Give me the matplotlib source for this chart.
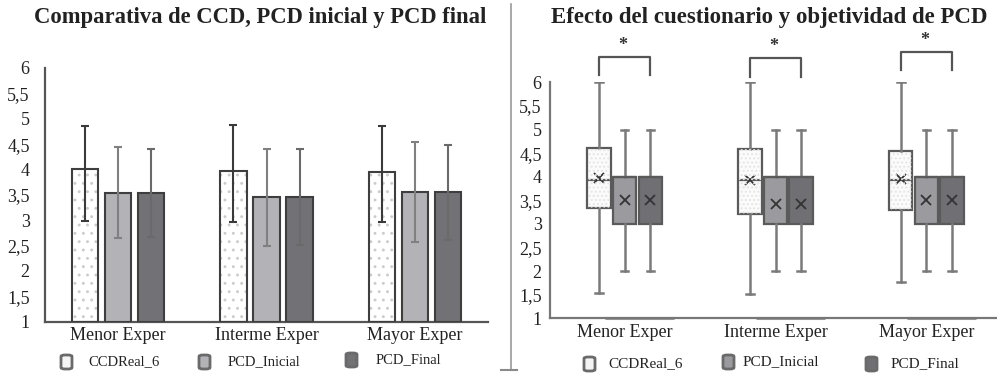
import matplotlib
matplotlib.use("Agg")
import matplotlib.pyplot as plt
import numpy as np
from matplotlib.patches import FancyBboxPatch
from matplotlib.lines import Line2D

plt.rcParams['font.family'] = ['Liberation Serif', 'DejaVu Serif']
plt.rcParams['hatch.linewidth'] = 0.9

# ---- data -------------------------------------------------------------
groups = ["Menor Exper", "Interme Exper", "Mayor Exper"]
series = ["CCDReal_6", "PCD_Inicial", "PCD_Final"]
yticks = [1, 1.5, 2, 2.5, 3, 3.5, 4, 4.5, 5, 5.5, 6]
ytick_labels = ["1", "1,5", "2", "2,5", "3", "3,5", "4", "4,5", "5", "5,5", "6"]

# bar chart: means with lower / upper error-bar ends
ccd_mean = [4.00, 3.97, 3.95]
ccd_low = [2.99, 2.97, 2.97]
ccd_high = [4.86, 4.87, 4.85]
pcdi_mean = [3.53, 3.46, 3.55]
pcdi_low = [2.65, 2.49, 2.57]
pcdi_high = [4.44, 4.41, 4.54]
pcdf_mean = [3.53, 3.46, 3.55]
pcdf_low = [2.67, 2.51, 2.61]
pcdf_high = [4.41, 4.40, 4.49]

# box plot statistics
ccd_q1 = [3.33, 3.20, 3.29]
ccd_med = [3.92, 3.94, 3.93]
ccd_q3 = [4.60, 4.58, 4.55]
ccd_whislo = [1.54, 1.51, 1.76]
ccd_whishi = [6.0, 6.0, 6.0]
ccd_bmean = [3.97, 3.94, 3.95]
pcdi_q1 = [3.0, 3.0, 3.0]
pcdi_med = [4.0, 4.0, 4.0]
pcdi_q3 = [4.0, 4.0, 4.0]
pcdi_whislo = [2.0, 2.0, 2.0]
pcdi_whishi = [5.0, 5.0, 5.0]
pcdi_bmean = [3.51, 3.42, 3.51]
pcdf_q1 = [3.0, 3.0, 3.0]
pcdf_med = [4.0, 4.0, 4.0]
pcdf_q3 = [4.0, 4.0, 4.0]
pcdf_whislo = [2.0, 2.0, 2.0]
pcdf_whishi = [5.0, 5.0, 5.0]
pcdf_bmean = [3.51, 3.42, 3.51]

# significance brackets (bracket foot, bracket top)
sig_foot = [6.15, 6.12, 6.26]
sig_top = [6.54, 6.51, 6.65]

titles = ["Comparativa de CCD, PCD inicial y PCD final",
          "Efecto del cuestionario y objetividad de PCD"]

# ---- styling ------------------------------------------------------------
fills = ["white", "#b3b3b7", "#727276"]
box_fills = ["#fbfbfb", "#9b9b9f", "#707074"]
edge = "#3e3e3e"
err_cols = ["#3a3a3a", "#808080", "#6a6a6a"]

W, H = 997, 373
fig = plt.figure(figsize=(W / 100, H / 100), dpi=100)


def px_axes(x0, y0, x1, y1):
    return fig.add_axes([x0 / W, 1 - y1 / H, (x1 - x0) / W, (y1 - y0) / H])


def style_axes(ax, spine_col):
    for s in ["top", "right"]:
        ax.spines[s].set_visible(False)
    for s in ["left", "bottom"]:
        ax.spines[s].set_color(spine_col)
        ax.spines[s].set_linewidth(1.6)
    ax.set_ylim(1, 6)
    ax.set_yticks(yticks)
    ax.set_yticklabels(ytick_labels, fontsize=13, color="#222222")
    ax.tick_params(axis="both", length=0)
    ax.tick_params(axis="y", pad=11)
    ax.set_xticks(range(len(groups)))
    ax.set_xticklabels(groups, fontsize=13, color="#222222")
    ax.tick_params(axis="x", pad=4)


# ---- left: bar chart ------------------------------------------------------
ax1 = px_axes(45, 68, 488, 321.7)
x = np.arange(len(groups))
bw = 0.178
offs = [-0.222, 0.0, 0.222]
means = [ccd_mean, pcdi_mean, pcdf_mean]
lows = [ccd_low, pcdi_low, pcdf_low]
highs = [ccd_high, pcdi_high, pcdf_high]
for i in range(3):
    m = np.array(means[i])
    yerr = [m - np.array(lows[i]), np.array(highs[i]) - m]
    if i == 0:
        ax1.bar(x + offs[i], m - 1, bottom=1, width=bw, color="white",
                edgecolor="#cccccc", hatch="..", linewidth=0, zorder=2)
        ax1.bar(x + offs[i], m - 1, bottom=1, width=bw, fill=False,
                edgecolor=edge, linewidth=1.5, zorder=3)
    else:
        ax1.bar(x + offs[i], m - 1, bottom=1, width=bw, color=fills[i],
                edgecolor=edge, linewidth=1.5, zorder=3)
    ax1.errorbar(x + offs[i], m, yerr=yerr, fmt="none", ecolor=err_cols[i],
                 elinewidth=1.5, capsize=3, capthick=1.5, zorder=4)
ax1.set_xlim(-0.49, 2.49)
style_axes(ax1, "#555555")
fig.text(260 / W, 1 - 17 / H, titles[0], fontsize=16.3, fontweight="bold",
         color="#222222", ha="center", va="center")

# ---- right: box plots ----------------------------------------------------
ax2 = px_axes(550, 82.3, 997, 318.3)
boff = [-0.17, 0.0, 0.17]
bwid = 0.155
box_data = [
    (ccd_q1, ccd_med, ccd_q3, ccd_whislo, ccd_whishi, ccd_bmean),
    (pcdi_q1, pcdi_med, pcdi_q3, pcdi_whislo, pcdi_whishi, pcdi_bmean),
    (pcdf_q1, pcdf_med, pcdf_q3, pcdf_whislo, pcdf_whishi, pcdf_bmean),
]
for i, (q1, med, q3, lo, hi, mn) in enumerate(box_data):
    stats = [dict(q1=q1[g], med=med[g], q3=q3[g], whislo=lo[g], whishi=hi[g],
                  mean=mn[g], fliers=[]) for g in range(len(groups))]
    ax2.bxp(stats, positions=x + boff[i], widths=bwid, patch_artist=True,
            showmeans=True, manage_ticks=False,
            boxprops=dict(facecolor=box_fills[i], edgecolor="#5a5a5a",
                          linewidth=1.6),
            whiskerprops=dict(color="#7a7a7a", linewidth=1.8),
            capprops=dict(color="#7a7a7a", linewidth=1.8),
            capwidths=0.05,
            medianprops=dict(color="#5a5a5a", linewidth=1.6),
            meanprops=dict(marker="x", markeredgecolor="#333333",
                           markersize=7, markeredgewidth=1.3))
    if i == 0:
        ax2.bar(x + boff[i], np.array(q3) - np.array(q1), bottom=q1,
                width=bwid * 0.93, color="none", edgecolor="#e4e4e4",
                hatch="....", linewidth=0, zorder=2.5)
ax2.set_xlim(-0.495, 2.468)
style_axes(ax2, "#777777")
ax2.tick_params(axis="y", pad=6)
ax2.set_xticklabels(groups, fontsize=13, color="#222222")

# faint darker segments along the category axis
for g in range(len(groups)):
    ax2.plot([g - 0.13, g + 0.33], [1.0, 1.0], color="#999999", lw=2.2,
             clip_on=False, zorder=1, solid_capstyle="butt")

# significance brackets
for g in range(len(groups)):
    xl, xr = g + boff[0], g + boff[2]
    ax2.plot([xl, xl, xr, xr], [sig_foot[g], sig_top[g], sig_top[g], sig_foot[g]],
             color="#555555", lw=1.6, clip_on=False)
    ax2.text((xl + xr) / 2 - 0.01, sig_top[g] + 0.06, "*", ha="center",
             va="bottom", fontsize=13, fontweight="bold", color="#333333")

fig.text(769 / W, 1 - 17 / H, titles[1], fontsize=16.5, fontweight="bold",
         color="#222222", ha="center", va="center")

# ---- divider between panels ----------------------------------------------
fig.add_artist(Line2D([510.7 / W, 510.7 / W], [1 - 4 / H, 1 - 370 / H],
                      color="#9a9a9a", lw=1.2))
fig.add_artist(Line2D([501 / W, 517 / W], [1 - 370 / H, 1 - 370 / H],
                      color="#8a8a8a", lw=1.5))

# ---- legends -------------------------------------------------------------
def legend_item(sx, sy, text, tx, face, fs=10.5):
    box = FancyBboxPatch((sx / W, 1 - (sy + 14) / H), 11 / W, 14 / H,
                         boxstyle="round,pad=0.0,rounding_size=0.004",
                         transform=fig.transFigure, facecolor=face,
                         edgecolor="#6a6a6a", linewidth=2.0)
    fig.add_artist(box)
    fig.text(tx / W, 1 - (sy + 7) / H, text, fontsize=fs, color="#222222",
             ha="left", va="center")


leg_left = [(61, 355, 88), (199, 355, 228), (346, 353, 376)]
leg_right = [(584, 357, 608), (723, 355, 743), (866, 357, 891)]
for i in range(3):
    sx, sy, tx = leg_left[i]
    legend_item(sx, sy, series[i], tx, fills[i] if i else "#f4f4f4")
    sx, sy, tx = leg_right[i]
    legend_item(sx, sy, series[i], tx, box_fills[i] if i else "#f4f4f4", fs=11)

fig.savefig("out.png", dpi=100)
